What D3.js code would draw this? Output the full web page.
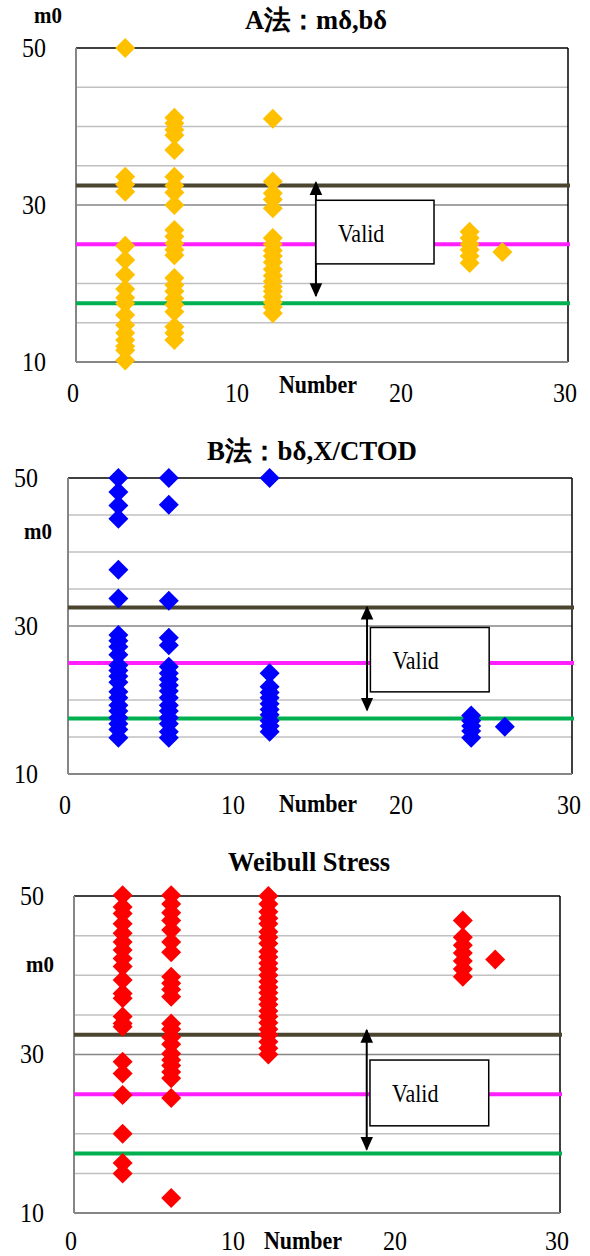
<!DOCTYPE html>
<html><head><meta charset="utf-8">
<script src="https://cdn.jsdelivr.net/npm/d3@7"></script>
<style>
html,body{margin:0;padding:0;background:#fff;}
svg{display:block;}
text{font-family:"Liberation Serif","Times New Roman",serif;}
</style></head>
<body>
<svg id="chart" width="590" height="1256"></svg>
<script>
// ---------- data ----------
const xTicks = [0, 10, 20, 30];
const yTicks = [10, 30, 50];
const yGrid = [15, 20, 25, 35, 40, 45];
const refValues = [32.5, 25, 17.5];
const refColors = ["#4b4530", "#ff1fff", "#00b050"];

const titles = ["A法：mδ,bδ", "B法：bδ,X/CTOD", "Weibull Stress"];
const colors = ["#ffc000", "#0000ff", "#ff0000"];

// Panel A: [number, m0]
const aX3 = [50, 33.6, 32.6, 31.7, 24.8, 23.0, 21.1, 19.3, 18.2, 17.5, 16.0, 14.7, 13.7, 12.8, 12.0, 11.5, 10.2];
const aX6 = [41.1, 40.4, 39.6, 38.9, 37.0, 33.6, 32.5, 31.6, 30.0, 26.8, 26.0, 25.1, 24.3, 23.6, 20.7, 19.8, 19.0, 18.1, 17.3, 16.4, 14.5, 13.7, 12.8];
const aX12 = [41.0, 33.0, 31.5, 30.7, 29.6, 25.8, 25.0, 24.2, 23.5, 22.7, 21.8, 21.0, 20.3, 19.6, 19.0, 18.3, 17.6, 17.0, 16.2];
const aX24 = [26.6, 25.8, 25.0, 24.3, 23.5, 22.6];
const aX26 = [24.0];

// Panel B
const bX3 = [50, 48.1, 46.3, 44.5, 37.6, 33.7, 28.8, 28.0, 27.2, 26.1, 24.7, 24.0, 23.2, 22.4, 21.1, 20.3, 19.3, 18.5, 17.6, 16.8, 16.0, 14.9];
const bX6 = [50, 46.4, 33.4, 28.4, 27.4, 24.5, 23.6, 22.8, 22.0, 21.2, 20.3, 19.3, 18.5, 17.6, 16.8, 15.7, 14.9];
const bX12 = [50, 23.6, 21.8, 21.0, 20.3, 19.5, 18.7, 18.0, 17.2, 16.5, 15.7];
const bX24 = [17.9, 17.2, 16.5, 15.8, 14.9];
const bX26 = [16.4];

// Panel C (Weibull stress)
const cX3 = [50.1, 48.6, 47.8, 46.5, 45.3, 44.2, 43.2, 42.1, 41.1, 39.4, 37.7, 37.1, 34.8, 33.9, 33.5, 29.1, 27.6, 24.9, 20.0, 16.3, 15.0];
const cX6 = [50.1, 49.0, 47.9, 46.9, 45.7, 44.2, 42.9, 39.8, 39.0, 38.2, 37.3, 33.9, 33.2, 32.2, 31.3, 30.1, 29.3, 28.6, 27.8, 27.0, 24.5, 11.9];
const cX12 = [50, 49, 48, 47.2, 46.5, 45.5, 44.8, 44, 43, 42.3, 41.5, 40.8, 40, 39.2, 38.5, 37.8, 37, 36.3, 35.5, 34.8, 34, 33.2, 32.5, 31.6, 30.8, 30.0];
const cX24 = [46.9, 44.8, 43.8, 42.8, 41.8, 40.8, 39.8];
const cX26 = [42.0];

const numbers = [3, 6, 12, 24, 26];
const panelSeries = [
  [aX3, aX6, aX12, aX24, aX26],
  [bX3, bX6, bX12, bX24, bX26],
  [cX3, cX6, cX12, cX24, cX26]
];

// Valid annotation per panel (data units)
const arrowX = [14.63, 17.8, 18.07];
const arrowTop = [33.0, 32.7, 33.2];
const arrowBottom = [18.3, 18.5, 17.9];
const boxX0 = [14.63, 18.0, 18.27];
const boxX1 = [21.83, 25.07, 25.6];
const boxTop = [30.6, 29.8, 29.3];
const boxBottom = [22.5, 21.1, 21.0];

// ---------- layout ----------
const frames = [
  {l: 76, r: 568, t: 48, b: 362, titleY: 20, titleX: 316, titleW: 142, m0X: 48, m0Y: 15, numX: 318, numY: 385, xtOff: 31},
  {l: 68, r: 572, t: 478, b: 774, titleY: 451, titleX: 312, titleW: 210, m0X: 38, m0Y: 531, numX: 318, numY: 804, xtOff: 31},
  {l: 74, r: 560, t: 896, b: 1213, titleY: 862, titleX: 309, titleW: 162, m0X: 40, m0Y: 964, numX: 303, numY: 1241, xtOff: 28}
];

const svg = d3.select("#chart");
const defs = svg.append("defs");
defs.append("marker").attr("id", "arr").attr("viewBox", "0 0 10 10")
  .attr("refX", 9).attr("refY", 5).attr("markerWidth", 14).attr("markerHeight", 14)
  .attr("markerUnits", "userSpaceOnUse")
  .attr("orient", "auto-start-reverse")
  .append("path").attr("d", "M0,0.5L10,5L0,9.5Z").attr("fill", "#000");

const diamond = "M0,-10L10,0L0,10L-10,0Z";
const SY = 1.12; // vertical text stretch as in reference

function txt(g, x, y, s, size, opts = {}) {
  const t = g.append("text")
    .attr("transform", `translate(${x},${y}) scale(1,${SY})`)
    .attr("text-anchor", opts.anchor || "middle")
    .attr("dominant-baseline", "central")
    .attr("font-size", size)
    .text(s);
  if (opts.bold) t.attr("font-weight", "bold");
  if (opts.len) t.attr("textLength", opts.len).attr("lengthAdjust", "spacingAndGlyphs");
  return t;
}

frames.forEach((f, i) => {
  const x = d3.scaleLinear().domain([0, 30]).range([f.l, f.r]);
  const y = d3.scaleLinear().domain([10, 50]).range([f.b, f.t]);
  const g = svg.append("g");

  // gridlines
  g.selectAll(".grid").data(yGrid).join("line")
    .attr("x1", f.l).attr("x2", f.r).attr("y1", d => y(d)).attr("y2", d => y(d))
    .attr("stroke", "#c0c0c0").attr("stroke-width", 1.5);
  g.append("line").attr("x1", f.l).attr("x2", f.r).attr("y1", y(30)).attr("y2", y(30))
    .attr("stroke", "#868686").attr("stroke-width", 1.5);

  // frame
  g.append("line").attr("x1", f.l).attr("x2", f.r).attr("y1", f.t).attr("y2", f.t).attr("stroke", "#000").attr("stroke-width", 1.5);
  g.append("line").attr("x1", f.r).attr("x2", f.r).attr("y1", f.t).attr("y2", f.b).attr("stroke", "#000").attr("stroke-width", 1.5);
  g.append("line").attr("x1", f.l).attr("x2", f.l).attr("y1", f.t).attr("y2", f.b).attr("stroke", "#868686").attr("stroke-width", 2);
  g.append("line").attr("x1", f.l).attr("x2", f.r).attr("y1", f.b).attr("y2", f.b).attr("stroke", "#868686").attr("stroke-width", 2);

  // reference lines
  refValues.forEach((v, k) => {
    g.append("line").attr("x1", f.l).attr("x2", f.r + 2).attr("y1", y(v)).attr("y2", y(v))
      .attr("stroke", refColors[k]).attr("stroke-width", 4);
  });

  // data points
  const pts = [];
  panelSeries[i].forEach((arr, j) => arr.forEach(v => pts.push([numbers[j], v])));
  g.selectAll(".pt").data(pts).join("path")
    .attr("d", diamond)
    .attr("transform", d => `translate(${x(d[0])},${y(d[1])})`)
    .attr("fill", colors[i]);

  // Valid annotation
  g.append("line").attr("x1", x(arrowX[i])).attr("x2", x(arrowX[i]))
    .attr("y1", y(arrowTop[i]) + 1).attr("y2", y(arrowBottom[i]) - 1)
    .attr("stroke", "#000").attr("stroke-width", 2)
    .attr("marker-start", "url(#arr)").attr("marker-end", "url(#arr)");
  g.append("rect").attr("x", x(boxX0[i])).attr("y", y(boxTop[i]))
    .attr("width", x(boxX1[i]) - x(boxX0[i])).attr("height", y(boxBottom[i]) - y(boxTop[i]))
    .attr("fill", "#fff").attr("stroke", "#000").attr("stroke-width", 1.5);
  txt(g, x(boxX0[i]) + 22, (y(boxTop[i]) + y(boxBottom[i])) / 2 + 1, "Valid", 22, {anchor: "start"});

  // axis tick labels
  yTicks.forEach(d => txt(g, f.l - 30, y(d), d, 24, {anchor: "end"}));
  xTicks.forEach(d => txt(g, x(d) - 3, f.b + f.xtOff, d, 24));

  // titles and axis labels
  txt(g, f.titleX, f.titleY, titles[i], 24, {bold: true, len: f.titleW});
  txt(g, f.m0X, f.m0Y, "m0", 21, {bold: true});
  txt(g, f.numX, f.numY, "Number", 22, {bold: true});
});
</script>
</body></html>
